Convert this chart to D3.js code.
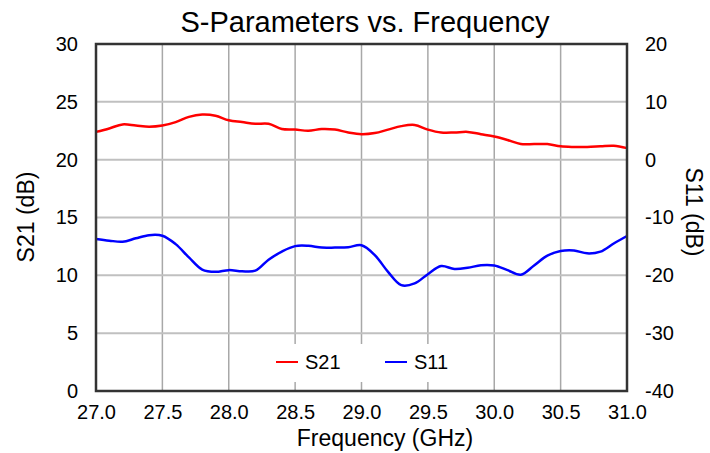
<!DOCTYPE html>
<html>
<head>
<meta charset="utf-8">
<script src="https://cdn.jsdelivr.net/npm/d3@7"></script>
<style>
body{margin:0;background:#fff;}
text{font-family:"Liberation Sans",Arial,sans-serif;fill:#000;}
</style>
</head>
<body>
<svg id="chart" width="710" height="453"></svg>
<script>
var freq=[27.0,27.1,27.2,27.3,27.4,27.5,27.6,27.7,27.8,27.9,28.0,28.1,28.2,28.3,28.4,28.5,28.6,28.7,28.8,28.9,29.0,29.1,29.2,29.3,29.4,29.5,29.6,29.7,29.8,29.9,30.0,30.1,30.2,30.3,30.4,30.5,30.6,30.7,30.8,30.9,31.0];
var s21=[22.4,22.7,23.05,22.95,22.85,22.95,23.25,23.7,23.9,23.8,23.4,23.25,23.1,23.1,22.65,22.6,22.5,22.65,22.6,22.35,22.2,22.3,22.6,22.9,23.0,22.6,22.35,22.35,22.4,22.2,22.0,21.7,21.35,21.35,21.35,21.15,21.1,21.1,21.15,21.2,21.0];
var s11=[-13.7,-14.0,-14.2,-13.6,-13.05,-13.15,-14.6,-16.9,-19.0,-19.4,-19.1,-19.3,-19.2,-17.3,-15.9,-14.95,-14.9,-15.2,-15.2,-15.15,-14.8,-16.5,-19.4,-21.7,-21.4,-19.8,-18.4,-18.9,-18.7,-18.25,-18.3,-19.1,-19.9,-18.3,-16.6,-15.8,-15.7,-16.2,-15.9,-14.5,-13.2];
var xTicks=[27.0,27.5,28.0,28.5,29.0,29.5,30.0,30.5,31.0];
var leftTicks=[0,5,10,15,20,25,30];
var rightTicks=[-40,-30,-20,-10,0,10,20];

var pLeft=96,pRight=627,pTop=44,pBottom=391;
var svg=d3.select("#chart");
var x=d3.scaleLinear().domain([27,31]).range([pLeft,pRight]);
var yL=d3.scaleLinear().domain([0,30]).range([pBottom,pTop]);
var yR=d3.scaleLinear().domain([-40,20]).range([pBottom,pTop]);

// grid
svg.append("g").selectAll("line").data(xTicks).enter().append("line")
 .attr("x1",d=>x(d)).attr("x2",d=>x(d)).attr("y1",pTop).attr("y2",pBottom)
 .attr("stroke","#a8a8a8").attr("stroke-width",1.5);
svg.append("g").selectAll("line").data(leftTicks).enter().append("line")
 .attr("x1",pLeft).attr("x2",pRight).attr("y1",d=>yL(d)).attr("y2",d=>yL(d))
 .attr("stroke","#c0c0c0").attr("stroke-width",2);

// axes (labels only)
var xa=svg.append("g").attr("transform","translate(0,"+pBottom+")")
 .call(d3.axisBottom(x).tickValues(xTicks).tickFormat(d3.format(".1f")).tickSize(0).tickPadding(14));
var la=svg.append("g").attr("transform","translate("+pLeft+",0)")
 .call(d3.axisLeft(yL).tickValues(leftTicks).tickSize(0).tickPadding(18));
var ra=svg.append("g").attr("transform","translate("+pRight+",0)")
 .call(d3.axisRight(yR).tickValues(rightTicks).tickFormat(d=>d<0?"-"+Math.abs(d):d).tickSize(0).tickPadding(18));
[xa,la,ra].forEach(function(a){
 a.select(".domain").remove();
 a.attr("font-size",null).attr("font-family",null);
 a.selectAll("text").style("font-size","20px").attr("fill","#000");
});

// lines
var lineL=d3.line().x((d,i)=>x(freq[i])).y(d=>yL(d)).curve(d3.curveCatmullRom.alpha(0.5));
var lineR=d3.line().x((d,i)=>x(freq[i])).y(d=>yR(d)).curve(d3.curveCatmullRom.alpha(0.5));
svg.append("path").datum(s21).attr("d",lineL).attr("fill","none").attr("stroke","#ff0000").attr("stroke-width",2.5);
svg.append("path").datum(s11).attr("d",lineR).attr("fill","none").attr("stroke","#0000ff").attr("stroke-width",2.5);

// legend
var lg=svg.append("g");
lg.append("rect").attr("x",265).attr("y",344).attr("width",195).attr("height",38).attr("fill","#fff");
var legItems=[{name:"S21",color:"#ff0000",x:276},{name:"S11",color:"#0000ff",x:385}];
legItems.forEach(function(d){
 lg.append("line").attr("x1",d.x).attr("x2",d.x+22).attr("y1",362).attr("y2",362).attr("stroke",d.color).attr("stroke-width",2);
 lg.append("text").attr("x",d.x+29).attr("y",369).style("font-size","20px").text(d.name);
});

// frame
svg.append("rect").attr("x",pLeft).attr("y",pTop).attr("width",pRight-pLeft).attr("height",pBottom-pTop)
 .attr("fill","none").attr("stroke","#333").attr("stroke-width",2.5);

// titles
svg.append("text").attr("x",365).attr("y",32).attr("text-anchor","middle").style("font-size","29px").text("S-Parameters vs. Frequency");
svg.append("text").attr("x",385).attr("y",446).attr("text-anchor","middle").style("font-size","23px").text("Frequency (GHz)");
svg.append("text").attr("transform","translate(34,217) rotate(-90)").attr("text-anchor","middle").style("font-size","23px").text("S21 (dB)");
svg.append("text").attr("transform","translate(686,212) rotate(90)").attr("text-anchor","middle").style("font-size","23px").text("S11 (dB)");
</script>
</body>
</html>
